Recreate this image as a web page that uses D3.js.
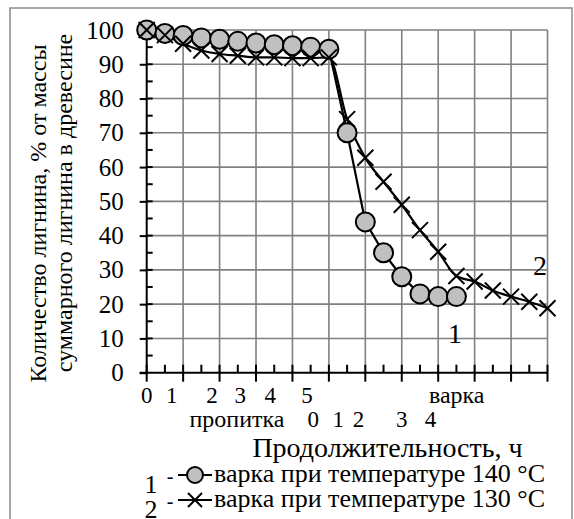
<!DOCTYPE html>
<html>
<head>
<meta charset="utf-8">
<script src="https://cdn.jsdelivr.net/npm/d3@7"></script>
<style>
  svg text { font-family: "Liberation Serif", "Times New Roman", serif !important; }
</style>
</head>
<body style="margin:0; background:#fff">
<svg id="chart" width="574" height="519"></svg>
<script>

// series 1 - cooking at 140 C (time in hours from start of impregnation)
var time140 = [0, 0.5, 1, 1.5, 2, 2.5, 3, 3.5, 4, 4.5, 5, 5.5, 6, 6.5, 7, 7.5, 8, 8.5];
var lignin140 = [100, 99, 98.4, 97.7, 97.3, 96.7, 96.2, 95.7, 95.4, 95, 94.4,
                 70, 44, 35, 28, 23, 22.2, 22.2];

// series 2 - cooking at 130 C
var time130 = [0, 0.5, 1, 1.5, 2, 2.5, 3, 3.5, 4, 4.5, 5, 5.5, 6, 6.5, 7, 7.5,
               8, 8.5, 9, 9.5, 10, 10.5, 11];
var lignin130 = [100, 98.5, 96, 94, 93, 92.5, 92, 92, 91.8, 91.8, 92, 74, 62.7,
                 55.7, 49, 41.6, 35.3, 28.2, 26.6, 24, 22.2, 20.7, 18.8];

// hand placed hour labels under the axis
var soakLabels = ["0", "1", "2", "3", "4", "5"];
var soakLabelAt = [0, 0.69, 1.79, 2.57, 3.39, 4.4];
var cookLabels = ["0", "1", "2", "3", "4"];
var cookLabelAt = [4.57, 5.26, 5.81, 7.0, 7.79];

var yTicks = [0, 10, 20, 30, 40, 50, 60, 70, 80, 90, 100];

var legendNames = ["варка при температуре 140 °C", "варка при температуре 130 °C"];

var serif = "'Liberation Serif', 'Times New Roman', serif";

var svg = d3.select("#chart");

var x = d3.scaleLinear().domain([0, 11]).range([146.7, 547.5]);
var y = d3.scaleLinear().domain([0, 100]).range([372.7, 30]);

// outer frame
svg.append("rect")
    .attr("x", 10).attr("y", 8)
    .attr("width", 562).attr("height", 530)
    .attr("fill", "none")
    .attr("stroke", "#8c8c8c")
    .attr("stroke-width", 1.5);

// grid
var grid = svg.append("g").attr("stroke", "#808080").attr("stroke-width", 1.6);

grid.selectAll(".hg")
    .data(yTicks.slice(1))
    .enter().append("line")
    .attr("x1", x(0)).attr("x2", x(11))
    .attr("y1", y).attr("y2", y);

grid.selectAll(".vg")
    .data(d3.range(1, 12))
    .enter().append("line")
    .attr("x1", x).attr("x2", x)
    .attr("y1", y(0)).attr("y2", y(100));

// y axis
var yAxis = svg.append("g")
    .attr("transform", "translate(" + x(0) + ",0)")
    .call(d3.axisLeft(y).tickValues(yTicks).tickSize(7).tickPadding(16));

yAxis.attr("font-family", serif);
yAxis.select(".domain").remove();
yAxis.selectAll("line").attr("stroke", "#000").attr("stroke-width", 2);
yAxis.selectAll("text")
    .style("font-size", "25px")
    .attr("fill", "#000");

// inner part of the y ticks, and minor ticks
svg.selectAll(".yin")
    .data(d3.range(5, 100, 5))
    .enter().append("line")
    .attr("x1", x(0)).attr("x2", x(0) + 6)
    .attr("y1", y).attr("y2", y)
    .attr("stroke", "#000").attr("stroke-width", 2);

svg.append("line")
    .attr("x1", x(0)).attr("x2", x(0))
    .attr("y1", y(0)).attr("y2", y(100) + 4)
    .attr("stroke", "#000").attr("stroke-width", 2);

// x axis
svg.append("line")
    .attr("x1", x(0) - 7).attr("x2", x(11))
    .attr("y1", y(0)).attr("y2", y(0))
    .attr("stroke", "#000").attr("stroke-width", 2);

svg.selectAll(".xmaj")
    .data(d3.range(0, 12))
    .enter().append("line")
    .attr("x1", x).attr("x2", x)
    .attr("y1", y(0) - 8).attr("y2", y(0) + 9)
    .attr("stroke", "#000").attr("stroke-width", 2);

svg.selectAll(".xmin")
    .data(d3.range(0.5, 11, 1))
    .enter().append("line")
    .attr("x1", x).attr("x2", x)
    .attr("y1", y(0) - 8).attr("y2", y(0))
    .attr("stroke", "#000").attr("stroke-width", 2);

// hour labels
var labels = svg.append("g")
    .attr("text-anchor", "middle")
    .attr("fill", "#000");

labels.selectAll(".soak")
    .data(soakLabels)
    .enter().append("text")
    .attr("x", function(d, i) { return x(soakLabelAt[i]); })
    .attr("y", 403)
    .style("font-size", "23px")
    .text(function(d) { return d; });

labels.selectAll(".cook")
    .data(cookLabels)
    .enter().append("text")
    .attr("x", function(d, i) { return x(cookLabelAt[i]); })
    .attr("y", 427)
    .style("font-size", "23px")
    .text(function(d) { return d; });

labels.append("text").attr("x", 237).attr("y", 427)
    .style("font-size", "24px").text("пропитка");
labels.append("text").attr("x", 456.7).attr("y", 403)
    .style("font-size", "24px").text("варка");

// axis titles
svg.append("text")
    .attr("x", 387.5).attr("y", 457)
    .attr("text-anchor", "middle")
    .style("font-size", "28px")
    .text("Продолжительность, ч");

var yTitle = svg.append("g")
    .attr("transform", "rotate(-90)")
    .attr("text-anchor", "middle");

yTitle.append("text").attr("x", -213.5).attr("y", 46)
    .style("font-size", "24px").text("Количество лигнина, % от массы");
yTitle.append("text").attr("x", -203).attr("y", 72)
    .style("font-size", "24px").text("суммарного лигнина в древесине");

// lines
var line140 = d3.line()
    .x(function(d, i) { return x(time140[i]); })
    .y(function(d) { return y(d); });

var line130 = d3.line()
    .x(function(d, i) { return x(time130[i]); })
    .y(function(d) { return y(d); })
    .curve(d3.curveMonotoneX);

svg.append("path")
    .datum(lignin130)
    .attr("d", line130)
    .attr("fill", "none").attr("stroke", "#000").attr("stroke-width", 2.2);

svg.append("path")
    .datum(lignin140)
    .attr("d", line140)
    .attr("fill", "none").attr("stroke", "#000").attr("stroke-width", 2.2);

function cross(g, cx, cy, r) {
    g.append("path")
        .attr("d", "M" + (cx - r) + "," + (cy - r) + "L" + (cx + r) + "," + (cy + r) +
                   "M" + (cx - r) + "," + (cy + r) + "L" + (cx + r) + "," + (cy - r))
        .attr("stroke", "#000").attr("stroke-width", 2).attr("fill", "none");
}

svg.selectAll(".dot")
    .data(lignin140)
    .enter().append("circle")
    .attr("cx", function(d, i) { return x(time140[i]); })
    .attr("cy", function(d) { return y(d); })
    .attr("r", 9.5)
    .attr("fill", "#c0c0c0")
    .attr("stroke", "#000")
    .attr("stroke-width", 2);

var crosses = svg.append("g");
lignin130.forEach(function(d, i) { cross(crosses, x(time130[i]), y(d), 8); });

// curve numbers
svg.append("text").attr("x", 455).attr("y", 343).attr("text-anchor", "middle")
    .style("font-size", "28px").text("1");
svg.append("text").attr("x", 540).attr("y", 275).attr("text-anchor", "middle")
    .style("font-size", "28px").text("2");

// legend
var legend = svg.append("g");

legendNames.forEach(function(name, i) {
    var ly = 475 + i * 25;
    legend.append("text").attr("x", 151).attr("y", ly + 18)
        .attr("text-anchor", "middle").style("font-size", "26px").text(String(i + 1));
    legend.append("text").attr("x", 170).attr("y", ly + 8)
        .attr("text-anchor", "middle").style("font-size", "20px").text("-");
    legend.append("line")
        .attr("x1", 178).attr("x2", 212).attr("y1", ly).attr("y2", ly)
        .attr("stroke", "#000").attr("stroke-width", 2);
    if (i == 0) {
        legend.append("circle").attr("cx", 195).attr("cy", ly).attr("r", 8)
            .attr("fill", "#c0c0c0").attr("stroke", "#000").attr("stroke-width", 2);
    } else {
        cross(legend, 195, ly, 7);
    }
    legend.append("text").attr("x", 214).attr("y", ly + 7)
        .style("font-size", "26px").text(name);
});

svg.selectAll("text")
    .attr("font-family", serif)
    .style("font-family", serif, "important");

</script>
</body>
</html>
